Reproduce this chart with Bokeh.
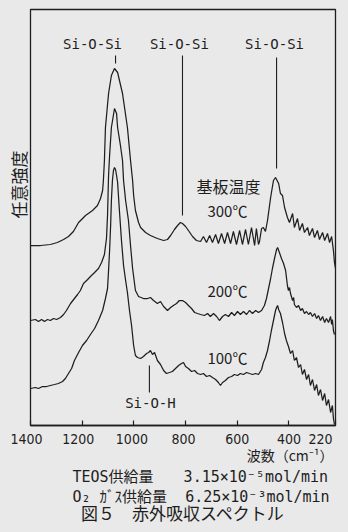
from bokeh.plotting import figure
from bokeh.models import Range1d, FixedTicker, Label, ColumnDataSource, Title
from bokeh.embed import file_html
from bokeh.resources import INLINE

# ---------------- data (wavenumber cm^-1, arbitrary intensity) ----------------
wn_300 = [1400, 1361, 1323, 1296, 1272, 1253, 1234, 1214, 1187, 1160, 1141, 1129, 1121, 1118, 1114, 1110,
          1098, 1087, 1075, 1063, 1044, 1025, 1013, 1005, 1001, 994, 982, 974, 955, 936, 909, 885, 870,
          858, 843, 831, 820, 812, 800, 789, 773, 758, 742, 731, 719, 707, 696, 684, 673, 661, 649, 638,
          626, 615, 603, 591, 580, 568, 557, 545, 533, 526, 518, 514, 506, 499, 491, 483, 471, 460, 452,
          440, 433, 425, 417, 406, 398, 386, 379, 367, 359, 348, 340, 328, 321, 309, 301, 290, 282, 270,
          262, 251, 243, 235, 228, 224, 220]
int_300 = [180, 180, 181, 183, 186, 189, 194, 203, 210, 215, 220, 227, 235, 245, 265, 298,
           332, 350, 357, 353, 332, 298, 265, 245, 230, 215, 203, 198, 193, 190, 187, 185, 186,
           190, 196, 200, 203, 202, 199, 195, 189, 185, 184, 189, 183, 190, 183, 191, 182, 192, 182, 193,
           182, 194, 181, 195, 181, 196, 181, 198, 180, 197, 181, 184, 197, 198, 194, 205, 228, 245, 248,
           242, 232, 230, 218, 208, 203, 212, 198, 207, 195, 202, 193, 198, 190, 197, 188, 195, 186, 193,
           185, 192, 183, 189, 175, 163, 157]

wn_200 = [1400, 1381, 1369, 1357, 1346, 1334, 1323, 1311, 1299, 1284, 1272, 1261, 1245, 1230, 1218, 1207,
          1195, 1179, 1168, 1152, 1137, 1125, 1114, 1106, 1102, 1100, 1098, 1094, 1087, 1075, 1067, 1063,
          1052, 1044, 1040, 1032, 1021, 1013, 1005, 994, 982, 963, 947, 936, 924, 909, 897, 885, 870, 858,
          847, 835, 824, 812, 800, 789, 777, 765, 754, 742, 727, 715, 704, 692, 680, 669, 657, 646, 634,
          622, 611, 599, 588, 576, 564, 553, 541, 529, 518, 506, 495, 487, 479, 471, 464, 456, 448, 444,
          437, 429, 421, 413, 406, 402, 398, 394, 386, 382, 379, 371, 363, 355, 348, 340, 332, 324, 317,
          309, 301, 293, 286, 278, 270, 262, 255, 247, 239, 235, 232, 228, 224]
int_200 = [105, 106, 104, 106, 104, 106, 105, 107, 106, 108, 111, 115, 122, 127, 131, 135,
           142, 146, 149, 153, 157, 163, 171, 187, 210, 230, 250, 270, 298, 317, 312, 298,
           280, 265, 245, 225, 205, 180, 157, 135, 129, 127, 127, 128, 125, 122, 124, 119, 115, 118,
           120, 122, 125, 125, 123, 120, 117, 113, 112, 111, 110, 112, 109, 112, 109, 105, 109, 111, 109,
           113, 110, 114, 111, 114, 111, 115, 112, 115, 113, 115, 120, 127, 137, 147, 157, 167, 176, 178,
           173, 167, 162, 155, 140, 135, 138, 132, 125, 128, 121, 118, 120, 115, 117, 112, 114, 111, 113,
           109, 112, 107, 110, 105, 109, 103, 107, 103, 109, 101, 106, 95, 91]

wn_100 = [1400, 1381, 1369, 1354, 1338, 1323, 1307, 1292, 1276, 1265, 1253, 1241, 1230, 1214, 1199, 1183,
          1168, 1152, 1137, 1121, 1110, 1102, 1098, 1094, 1090, 1087, 1083, 1079, 1075, 1071, 1067, 1063,
          1056, 1048, 1040, 1032, 1025, 1017, 1009, 1001, 994, 986, 974, 963, 951, 943, 936, 928, 920,
          909, 897, 885, 874, 862, 851, 839, 827, 816, 808, 800, 789, 777, 765, 754, 742, 731, 719, 707,
          696, 684, 673, 665, 657, 646, 634, 622, 611, 599, 588, 576, 564, 553, 541, 529, 518, 506, 499,
          491, 483, 475, 468, 460, 452, 448, 444, 440, 433, 425, 417, 410, 402, 394, 386, 379, 371, 363,
          355, 348, 340, 332, 324, 317, 309, 301, 293, 286, 278, 270, 262, 255, 247, 239, 232, 228, 224]
int_100 = [37, 38, 37, 39, 39, 40, 41, 42, 44, 47, 52, 57, 65, 73, 80, 85,
           91, 97, 105, 115, 127, 137, 155, 175, 200, 225, 245, 255, 258, 256, 250, 243,
           215, 185, 160, 145, 133, 115, 100, 80, 70, 68, 67, 69, 72, 73, 75, 71, 73,
           65, 61, 55, 52, 53, 54, 57, 60, 62, 63, 59, 57, 54, 55, 52, 51, 52, 49, 50,
           48, 46, 43, 40, 43, 45, 48, 49, 51, 50, 52, 51, 53, 52, 51, 52, 51, 56, 63,
           68, 75, 85, 95, 105, 115, 118, 120, 116, 112, 103, 92, 85, 79, 72, 75, 65, 68, 58,
           61, 51, 56, 46, 51, 40, 46, 35, 41, 30, 36, 25, 32, 20, 26, 13, 20, 7, 1]

# band assignments
band_wn = [1071, 812, 448]
band_top = [370, 370, 368]
band_bottom = [362, 210, 257]
band_label = ["Si-O-Si", "Si-O-Si", "Si-O-Si"]
band_label_wn = [1160, 824, 456]
sioh_wn = 940
sioh_range = [60, 33]

temp_labels = ["300℃", "200℃", "100℃"]
temp_label_y = [215, 135, 68]

NB = "\u00a0"
x_ticks = [1400, 1200, 1000, 800, 600, 400, 220]
x_tick_labels = ["1400" + NB * 2, "1200" + NB * 2, "1000" + NB, "800" + NB,
                 "600", "400", "220" + NB * 4]

BG = "#e9e9e9"
INK = "#1e1e1e"
JP = "Noto Sans CJK JP"
MONO = "DejaVu Sans Mono"
MIX = "'DejaVu Sans Mono', 'Noto Sans CJK JP', monospace"

p = figure(frame_width=305, frame_height=416, x_range=Range1d(1400, 220), y_range=Range1d(0, 416),
           output_backend="svg", toolbar_location=None, title=None, y_axis_location=None,
           min_border_left=30, min_border_right=13, min_border_top=9, min_border_bottom=0)
p.background_fill_color = BG
p.border_fill_color = BG
p.outline_line_color = INK
p.outline_line_width = 1.3
p.grid.visible = False

ax = p.xaxis[0]
ax.ticker = FixedTicker(ticks=x_ticks)
ax.major_label_overrides = dict(zip(x_ticks, x_tick_labels))
ax.major_tick_in = 5
ax.major_tick_out = 0
ax.minor_tick_in = 0
ax.minor_tick_out = 0
ax.axis_line_color = INK
ax.axis_line_width = 1.3
ax.major_tick_line_color = INK
ax.major_tick_line_width = 1.2
ax.major_label_standoff = 5
ax.major_label_text_font = "'Liberation Sans Narrow', 'DejaVu Sans Condensed', sans-serif"
ax.major_label_text_font_size = "14px"
ax.major_label_text_color = INK

for wn, it in [(wn_300, int_300), (wn_200, int_200), (wn_100, int_100)]:
    src = ColumnDataSource(dict(x=wn, y=it))
    p.line("x", "y", source=src, line_color=INK, line_width=1.25)

p.segment(x0=band_wn, y0=band_top, x1=band_wn, y1=band_bottom, line_color=INK, line_width=1.1)
p.segment(x0=[sioh_wn], y0=[sioh_range[0]], x1=[sioh_wn], y1=[sioh_range[1]], line_color=INK, line_width=1.1)


def lab(x, y, text, font, size, align="center"):
    p.add_layout(Label(x=x, y=y, text=text, text_font=font, text_font_size=size,
                       text_align=align, text_baseline="middle", text_color=INK))


for xw, t in zip(band_label_wn, band_label):
    lab(xw, 382, t, MONO, "14px")
lab(936, 23, "Si-O-H", MONO, "14px")
lab(634, 240, "基板温度", JP, "16px")
for t, yy in zip(temp_labels, temp_label_y):
    lab(638, yy, t, JP, "15px")


def title(text, side, font, size, align, offset=0, standoff=0, valign="bottom"):
    p.add_layout(Title(text=text, align=align, offset=offset, standoff=standoff,
                       vertical_align=valign,
                       text_font=font, text_font_size=size, text_font_style="normal",
                       text_color=INK), side)


title("任意強度", "left", JP, "17px", "right", offset=141)
title("波数（cm⁻¹）", "below", JP, "14px", "right", offset=2, standoff=-12, valign="middle")
title("TEOS供給量　　3.15×10⁻⁵mol/min", "below", MIX, "15px", "left", offset=42, standoff=15, valign="middle")
title("O₂ ｶﾞｽ供給量" + NB * 2 + "6.25×10⁻³mol/min", "below", MIX, "15px", "left", offset=42,
      standoff=-15, valign="middle")
title("図５　赤外吸収スペクトル", "below", JP, "17px", "center", standoff=-2, valign="middle")

html = file_html(p, INLINE)
html = html.replace("<head>", "<head><style>body{background:%s}</style>" % BG, 1)
open("out.html", "w").write(html)
